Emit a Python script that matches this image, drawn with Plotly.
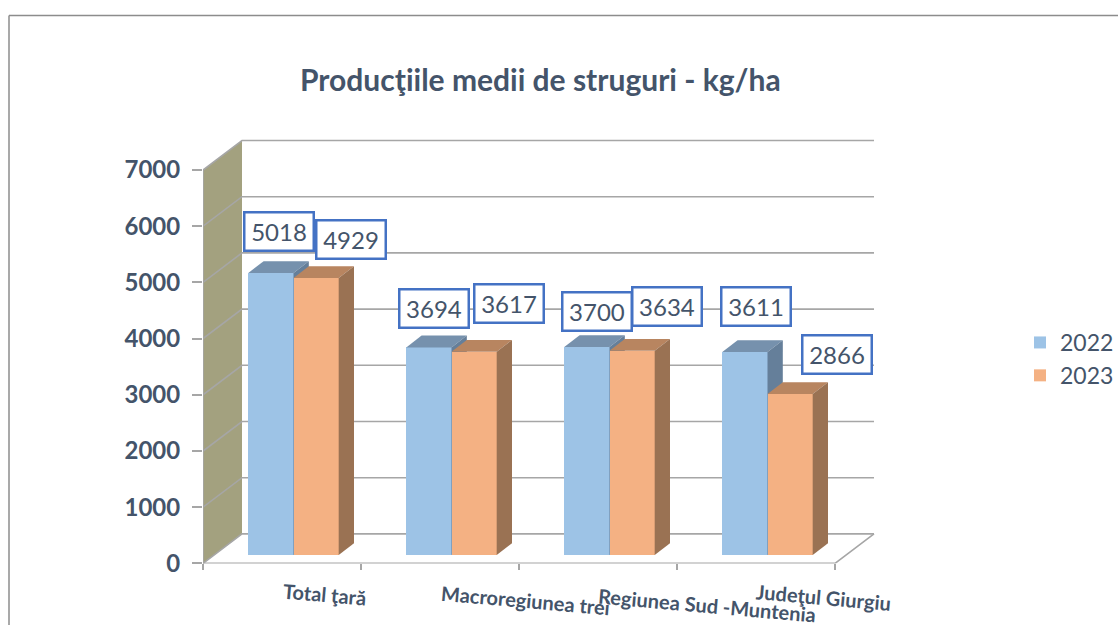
import plotly.graph_objects as go

categories = ["Total ţară", "Macroregiunea trei", "Regiunea Sud -Muntenia", "Judeţul Giurgiu"]
values_2022 = [5018, 3694, 3700, 3611]
values_2023 = [4929, 3617, 3634, 2866]
y_ticks = [0, 1000, 2000, 3000, 4000, 5000, 6000, 7000]
title_text = "Producţiile medii de struguri - kg/ha"

W, H = 1118, 625
TEXT = "#44546A"
GRID = "#a6a6a6"
FONT = "Lato"

# plot-frame and 3-D projection styling (pixels -> axis units)
PX_L, PX_R, PX_T, PX_B = 203, 835, 170, 563.4
X_UNIT = (PX_R - PX_L) / len(categories)
Y_UNIT = (PX_B - PX_T) / 7000
WALL_DX, WALL_DY = 39 / X_UNIT, 29.5 / Y_UNIT
BAR_DX, BAR_DY = 15.3 / X_UNIT, 11.8 / Y_UNIT
BAR_W = 45.2 / X_UNIT
BAR_SHIFT = 11.5 / X_UNIT
BAR_LIFT = 8.4 / Y_UNIT

# axis windows reach past the front plane so the projected back wall fits inside
PX_R_EXT, PX_T_EXT = 880, 130

positions = list(range(len(categories)))
x_lo, x_hi = -0.5, len(categories) - 0.5
x_top = x_hi + (PX_R_EXT - PX_R) / X_UNIT
y_top = 7000 + (PX_T - PX_T_EXT) / Y_UNIT

# manual placement of the value boxes and tilted labels (pixel centres)
box_centers_2022 = [(279, 232), (434, 308), (597, 311), (756, 306.5)]
box_centers_2023 = [(351, 239), (509, 304), (667, 306), (837, 354.5)]
cat_centers = [(324, 594), (525, 600), (707, 605), (823, 597)]


def paper(px, py):
    return px / W, 1 - py / H


def poly(xs, ys, color, xaxis, yaxis):
    return go.Scatter(x=xs, y=ys, mode="lines", fill="toself", fillcolor=color,
                      line=dict(width=0, color=color), hoverinfo="skip", showlegend=False,
                      xaxis=xaxis, yaxis=yaxis)


fig = go.Figure()

# left wall
fig.add_trace(poly([x_lo, x_lo, x_lo + WALL_DX, x_lo + WALL_DX, x_lo],
                   [0, 7000, 7000 + WALL_DY, WALL_DY, 0], "#A3A17F", "x", "y"))

# gridlines running across wall and back
gx, gy = [], []
for v in y_ticks:
    gx += [x_lo, x_lo + WALL_DX, x_hi + WALL_DX, None]
    gy += [v, v + WALL_DY, v + WALL_DY, None]
gx += [x_lo, x_lo, None, x_lo, x_hi, x_hi + WALL_DX]
gy += [0, 7000, None, 0, 0, WALL_DY]
fig.add_trace(go.Scatter(x=gx, y=gy, mode="lines", line=dict(color=GRID, width=1.6),
                         hoverinfo="skip", showlegend=False, cliponaxis=False))

series = [
    ("2022", values_2022, "#9DC3E6", "#7691AD", "#657F9A", -BAR_W + BAR_SHIFT, "x2", "y2"),
    ("2023", values_2023, "#F4B183", "#B88560", "#9A7253", BAR_SHIFT, "x3", "y3"),
]
for name, vals, col, top, side, off, xa, ya in series:
    fig.add_trace(go.Bar(x=positions, y=vals, base=BAR_LIFT, name=name, width=BAR_W, offset=off,
                         marker=dict(color=col, line=dict(width=0)),
                         xaxis=xa, yaxis=ya, customdata=categories,
                         hovertemplate="%{customdata}<br>%{y}<extra>" + name + "</extra>"))
    for p, v in zip(positions, vals):
        l, r = p + off, p + off + BAR_W
        t, b = v + BAR_LIFT, BAR_LIFT
        fig.add_trace(poly([l, l + BAR_DX, r + BAR_DX, r, l],
                           [t, t + BAR_DY, t + BAR_DY, t, t], top, xa, ya))
        fig.add_trace(poly([r, r + BAR_DX, r + BAR_DX, r, r],
                           [t, t + BAR_DY, b + BAR_DY, b, t], side, xa, ya))

annotations = [dict(text=title_text, xref="paper", yref="paper", x=paper(540, 79)[0], y=paper(540, 79)[1],
                    showarrow=False, xanchor="center", yanchor="middle",
                    font=dict(family=FONT, size=30, color=TEXT, weight="bold"))]

for vals, centers in ((values_2022, box_centers_2022), (values_2023, box_centers_2023)):
    for v, (cx, cy) in zip(vals, centers):
        px, py = paper(cx, cy)
        annotations.append(dict(text=str(v), xref="paper", yref="paper", x=px, y=py, showarrow=False,
                                xanchor="center", yanchor="middle", width=67, height=36, borderpad=0,
                                bgcolor="white", bordercolor="#4472C4", borderwidth=2.5,
                                font=dict(family=FONT, size=24, color=TEXT)))

for c, (cx, cy) in zip(categories, cat_centers):
    px, py = paper(cx, cy)
    annotations.append(dict(text=c, xref="paper", yref="paper", x=px, y=py, showarrow=False,
                            xanchor="center", yanchor="middle", textangle=5,
                            font=dict(family=FONT, size=20, color=TEXT, weight="bold")))

frame = dict(type="line", xref="paper", yref="paper", line=dict(color="#8c8c8c", width=1.5))
shapes = [
    dict(frame, x0=9 / W, x1=1, y0=1 - 15.5 / H, y1=1 - 15.5 / H),
    dict(frame, x0=9 / W, x1=9 / W, y0=1 - 15.5 / H, y1=0),
]

fig.update_layout(
    width=W, height=H, margin=dict(l=0, r=0, t=0, b=0, autoexpand=False),
    paper_bgcolor="white", plot_bgcolor="rgba(0,0,0,0)",
    barmode="overlay", bargap=0, hovermode="closest",
    annotations=annotations, shapes=shapes,
    xaxis=dict(domain=[PX_L / W, PX_R_EXT / W], range=[x_lo, x_top], showgrid=False, zeroline=False,
               tickmode="array", tickvals=[p - 0.5 for p in positions] + [x_hi], ticktext=[""] * 5,
               ticks="outside", ticklen=6, tickwidth=1.5, tickcolor=GRID, showline=False),
    yaxis=dict(domain=[1 - PX_B / H, 1 - PX_T_EXT / H], range=[0, y_top], showgrid=False, zeroline=False,
               tickmode="array", tickvals=y_ticks, ticks="outside", ticklen=10, tickwidth=1.5,
               tickcolor=GRID, ticklabelstandoff=7, showline=False,
               tickfont=dict(family=FONT, size=24, color=TEXT, weight="bold")),
    xaxis2=dict(visible=False, range=[x_lo, x_top], overlaying="x", anchor="y2"),
    yaxis2=dict(visible=False, range=[0, y_top], overlaying="y", anchor="x2"),
    xaxis3=dict(visible=False, range=[x_lo, x_top], overlaying="x", anchor="y3"),
    yaxis3=dict(visible=False, range=[0, y_top], overlaying="y", anchor="x3"),
    legend=dict(x=1020 / W, y=1 - 321 / H, xanchor="left", yanchor="top", bgcolor="rgba(0,0,0,0)",
                font=dict(family=FONT, size=23, color=TEXT), itemwidth=30),
)

fig.write_html("out.html", config=dict(displayModeBar=False),
               post_script="document.body.style.margin='0';")
